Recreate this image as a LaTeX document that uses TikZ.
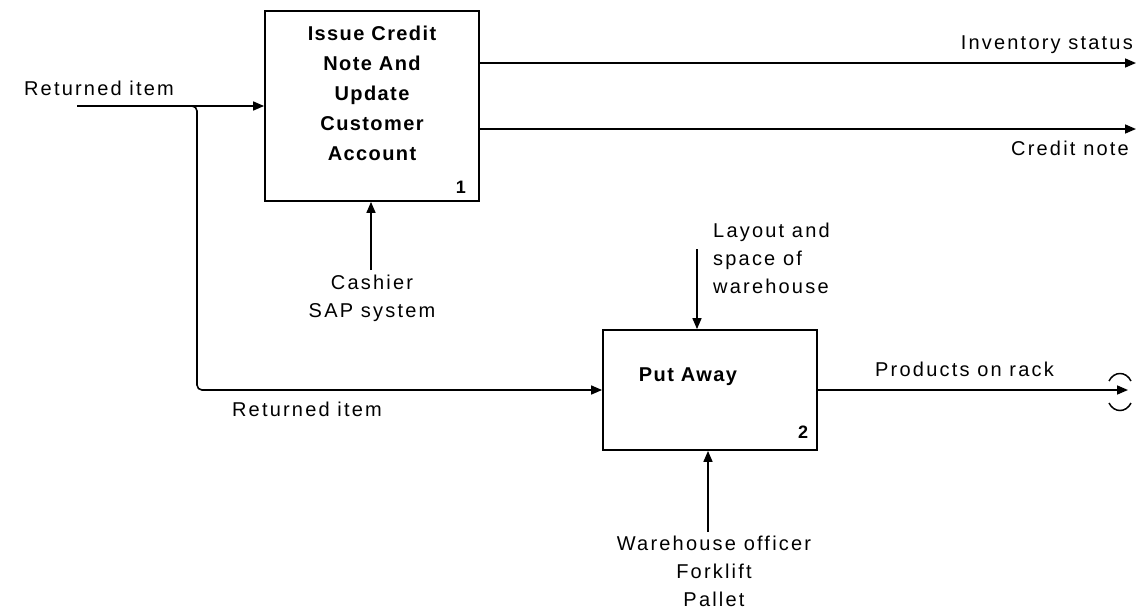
\documentclass[tikz,border=0pt]{standalone}
\usepackage{fontspec}
\usetikzlibrary{arrows.meta}
\setmainfont{Liberation Sans}
\newfontfamily\labfont[LetterSpace=11]{Liberation Sans}
\newfontfamily\boxfont[LetterSpace=7]{Liberation Sans}
\begin{document}
\begin{tikzpicture}[x=1pt,y=-1pt,
  lab/.style={font=\labfont\fontsize{20}{28}\selectfont, inner sep=0pt, align=center},
  boxtxt/.style={font=\boxfont\bfseries\fontsize{20}{30}\selectfont, inner sep=0pt, align=center},
  numtxt/.style={font=\bfseries\fontsize{18}{20}\selectfont, inner sep=0pt},
  proc/.style={draw, line width=1.8pt, minimum width=214pt, inner sep=0pt},
  flow/.style={line width=1.6pt, -{Triangle[length=11pt,width=9pt]}},
  plain/.style={line width=1.5pt}]
\useasboundingbox (0,0) rectangle (1138,614);

% process boxes
\node[proc, minimum height=190pt] (p1) at (372,106) {};
\node[proc, minimum height=120pt] (p2) at (710,390) {};

\node[boxtxt] (t1) at (372,93) {Issue Credit\\Note And\\Update\\Customer\\Account};
\node[numtxt] (n1) at (461,187) {1};
\node[boxtxt] (t2) at (688,377) {Put Away};
\node[numtxt] (n2) at (803,432) {2};

% input
\coordinate (in1) at (77,106);
\coordinate (br) at (190,106);
\coordinate (bend) at (197,390);
\draw[flow] (in1) -- (p1.west);
\draw[flow, rounded corners=5pt] (br) -| (bend) -- (p2.west);
\node[lab] (l1) at (99,88) {Returned item};
\node[lab] (l2) at (307,409) {Returned item};

% outputs of box 1
\coordinate (o1) at (1136,63);
\coordinate (o2) at (1136,129);
\draw[flow] (p1.east |- o1) -- (o1);
\draw[flow] (p1.east |- o2) -- (o2);
\node[lab, anchor=east] (l3) at (1133,45) {Inventory status};
\node[lab, anchor=east] (l4) at (1129,148) {Credit note};

% output of box 2
\coordinate (o3) at (1128,390);
\draw[flow] (p2.east) -- (o3);
\node[lab, anchor=west] (l5) at (875,369) {Products on rack};
\draw[plain] (1109,381) .. controls (1114,371) and (1126,371) .. (1131,381);
\draw[plain] (1109,403) .. controls (1114,413) and (1126,413) .. (1131,403);

% controls
\coordinate (c1) at (371,270);
\draw[flow] (c1) -- (c1 |- p1.south);
\node[lab] (l6) at (372,298) {Cashier\\SAP system};

\coordinate (c2) at (697,249);
\draw[flow] (c2) -- (c2 |- p2.north);
\node[lab, anchor=west, align=left] (l7) at (713,258) {Layout and\\space of\\warehouse};

% mechanism
\coordinate (m2) at (708,532);
\draw[flow] (m2) -- (m2 |- p2.south);
\node[lab] (l8) at (714,571) {Warehouse officer\\Forklift\\Pallet};
\end{tikzpicture}
\end{document}
